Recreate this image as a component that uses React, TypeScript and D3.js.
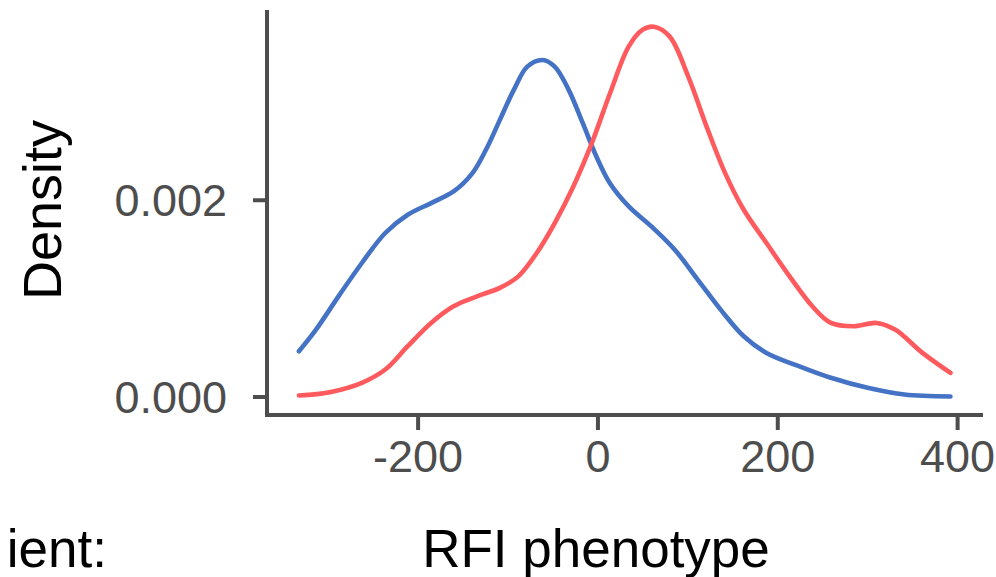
import { useEffect, useRef } from "react";
import * as d3 from "d3";

// RFI phenotype values (x) for each density trace
const BLUE_X = [-332, -313, -288, -262, -236, -211, -185, -160, -139, -124, -108.5, -93, -78, -61, -47.5, -32, -16.3, -1.2, 13.7, 34.8, 60, 86, 111.5, 137, 162.7, 188, 224, 259.6, 300.5, 341.5, 392.6];
const BLUE_Y = [0.00046, 0.00068, 0.001018, 0.001357, 0.001662, 0.001848, 0.001966, 0.002084, 0.002271, 0.002508, 0.002812, 0.003117, 0.003353, 0.003421, 0.003353, 0.003117, 0.002778, 0.00244, 0.00217, 0.001932, 0.001729, 0.001492, 0.001188, 0.000883, 0.000612, 0.000443, 0.000308, 0.00019, 0.000088, 0.00002, 0.0];

const RED_X = [-332, -297.7, -262, -236, -211, -185, -160, -134, -108.5, -88, -67.5, -47.5, -26.8, -6.3, 14, 34.7, 50, 62.8, 80.4, 101, 121.4, 142, 162.7, 188, 213.7, 239, 259.6, 285, 310.5, 331, 361.5, 392.6];
const RED_Y = [0.00001, 0.000044, 0.000139, 0.000274, 0.000511, 0.000748, 0.000917, 0.001018, 0.001104, 0.001221, 0.001459, 0.001763, 0.002135, 0.002575, 0.003083, 0.003556, 0.003726, 0.003759, 0.003658, 0.003252, 0.002744, 0.002271, 0.001898, 0.00156, 0.001221, 0.000917, 0.000748, 0.000714, 0.000748, 0.00068, 0.000443, 0.00024];

const X_TICKS = [-200, 0, 200, 400];
const Y_TICKS = [0, 0.002];

const SERIES = [
  { key: "blue", xs: BLUE_X, ys: BLUE_Y, color: "#4472c4" },
  { key: "red", xs: RED_X, ys: RED_Y, color: "#ff5a5e" },
];

export default function App() {
  const ref = useRef<SVGSVGElement>(null);

  useEffect(() => {
    const svg = d3.select(ref.current);
    svg.selectAll("*").remove();

    const width = 996;
    const height = 577;
    const plot = { left: 267, right: 983, top: 10, bottom: 415 };
    const axisColor = "#4d4d4d";
    const font = "'Liberation Sans', Arial, sans-serif";

    const x = d3.scaleLinear().domain([-367.5, 428.8]).range([plot.left, plot.right]);
    const y = d3.scaleLinear().domain([-0.000188, 0.003944]).range([plot.bottom, 8.5]);

    svg.attr("width", width).attr("height", height);

    // curves
    SERIES.forEach((s) => {
      const pts = s.xs.map((v, i) => [v, s.ys[i]] as [number, number]);
      const line = d3
        .line<[number, number]>()
        .x((d) => x(d[0]))
        .y((d) => y(d[1]))
        .curve(d3.curveCatmullRom.alpha(0.5));
      svg
        .append("path")
        .datum(pts)
        .attr("fill", "none")
        .attr("stroke", s.color)
        .attr("stroke-width", 4.6)
        .attr("stroke-linecap", "round")
        .attr("stroke-linejoin", "round")
        .attr("d", line);
    });

    // x axis
    const xAxis = svg
      .append("g")
      .attr("transform", `translate(0,${plot.bottom})`)
      .call(
        d3
          .axisBottom(x)
          .tickValues(X_TICKS)
          .tickSize(15)
          .tickPadding(10)
          .tickFormat((d) => String(d))
      );
    xAxis.select(".domain").attr("d", `M${plot.left - 2},0H${plot.right}`);

    // y axis
    const yAxis = svg
      .append("g")
      .attr("transform", `translate(${plot.left},0)`)
      .call(d3.axisLeft(y).tickValues(Y_TICKS).tickSize(14).tickPadding(26).tickFormat(d3.format(".3f")));
    yAxis.select(".domain").attr("d", `M0,${plot.top}V${plot.bottom + 2}`);

    [xAxis, yAxis].forEach((g) => {
      g.select(".domain").attr("stroke", axisColor).attr("stroke-width", 4);
      g.selectAll(".tick line").attr("stroke", axisColor).attr("stroke-width", 4);
      g.selectAll(".tick text")
        .attr("fill", axisColor)
        .style("font-family", font)
        .style("font-size", "45px");
    });
    yAxis.selectAll(".tick text").attr("dy", "0.36em");

    // axis titles
    svg
      .append("text")
      .attr("transform", `translate(61,210) rotate(-90)`)
      .attr("text-anchor", "middle")
      .attr("fill", "#000")
      .style("font-family", font)
      .style("font-size", "54px")
      .text("Density");

    svg
      .append("text")
      .attr("x", 596)
      .attr("y", 567)
      .attr("text-anchor", "middle")
      .attr("fill", "#000")
      .style("font-family", font)
      .style("font-size", "53px")
      .text("RFI phenotype");

    // cropped neighbouring label
    svg
      .append("text")
      .attr("x", 107)
      .attr("y", 567)
      .attr("text-anchor", "end")
      .attr("fill", "#000")
      .style("font-family", font)
      .style("font-size", "53px")
      .text("ient:");
  }, []);

  return (
    <div style={{ position: "absolute", left: 0, top: 0, background: "#fff" }}>
      <svg ref={ref} />
    </div>
  );
}
